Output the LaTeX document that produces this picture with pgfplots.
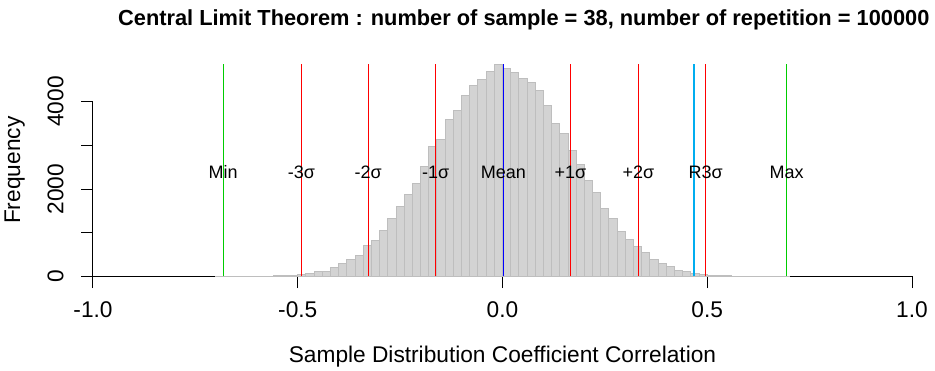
\documentclass[border=0pt]{standalone}
\usepackage{fontspec}
\setmainfont{Liberation Sans}
\usepackage{pgfplots}
\usepackage{pgfplotstable}
\pgfplotsset{compat=1.18}
\definecolor{barfill}{RGB}{211,211,211}
\definecolor{barline}{RGB}{190,190,190}
\definecolor{rgreen}{RGB}{0,205,0}
\pgfplotstableread{
x y
-0.70 1
-0.68 0
-0.66 1
-0.64 2
-0.62 3
-0.60 5
-0.58 9
-0.56 18
-0.54 22
-0.52 28
-0.50 50
-0.48 75
-0.46 120
-0.44 120
-0.42 206
-0.40 305
-0.38 396
-0.36 488
-0.34 717
-0.32 830
-0.30 1060
-0.28 1327
-0.26 1609
-0.24 1876
-0.22 2128
-0.20 2520
-0.18 2982
-0.16 3142
-0.14 3593
-0.12 3806
-0.10 4149
-0.08 4378
-0.06 4515
-0.04 4698
-0.02 4858
0.00 4762
0.02 4667
0.04 4530
0.06 4439
0.08 4263
0.10 3919
0.12 3508
0.14 3279
0.16 2890
0.18 2560
0.20 2204
0.22 1922
0.24 1556
0.26 1315
0.28 1021
0.30 847
0.32 693
0.34 549
0.36 389
0.38 297
0.40 229
0.42 137
0.44 114
0.46 69
0.48 46
0.50 23
0.52 20
0.54 17
0.56 9
0.58 6
0.60 4
0.62 2
0.64 1
0.66 1
0.68 1
0.70 1
}\histdata
\begin{document}
\begin{tikzpicture}
\path[use as bounding box] (-93pt,-94.5pt) rectangle (842pt,276.5pt);
\begin{axis}[
  at={(0pt,0pt)}, anchor=south west,
  scale only axis, width=819pt, height=212.5pt,
  xmin=-1, xmax=1, ymin=0, ymax=4860,
  axis line style={draw=none},
  clip=false,
  font=\fontsize{22.7}{27}\selectfont,
  xtick={-1,-0.5,0,0.5,1}, xticklabels={-1.0,-0.5,0.0,0.5,1.0},
  ytick={0,1000,2000,3000,4000}, yticklabels={0,,2000,,4000},
  tick align=outside, major tick length=11.7pt,
  xtick pos=bottom, ytick pos=left,
  tick style={black, line width=1pt},
  xticklabel style={anchor=north, inner sep=0pt, yshift=-13pt},
  yticklabel style={xshift=-18pt, rotate=90, anchor=base, inner sep=0pt},
  title={Central Limit Theorem : number of sample = 38, number of repetition = 100000},
  title style={at={(axis description cs:0.526,1.152)}, anchor=base, font=\bfseries\fontsize{21.8}{26}\selectfont},
  xlabel={Sample Distribution Coefficient Correlation},
  xlabel style={at={(axis description cs:0.5,-0.407)}, anchor=base},
  ylabel={Frequency},
  ylabel style={at={(axis description cs:-0.0891,0.5)}, anchor=base, rotate=0},
]
\draw[black, line width=1pt] (axis cs:-1,0) -- (axis cs:1,0);
\draw[black, line width=1pt] (axis cs:-1,0) -- (axis cs:-1,4000);
\addplot[ybar interval, fill=barfill, draw=barline, line width=1pt] table {\histdata};
\addplot[rgreen, line width=1pt] coordinates {(-0.682,0) (-0.682,4860)};
\addplot[red, line width=1pt] coordinates {(-0.491,0) (-0.491,4860)};
\addplot[red, line width=1pt] coordinates {(-0.328,0) (-0.328,4860)};
\addplot[red, line width=1pt] coordinates {(-0.163,0) (-0.163,4860)};
\addplot[blue, line width=1pt] coordinates {(0.002,0) (0.002,4860)};
\addplot[red, line width=1pt] coordinates {(0.166,0) (0.166,4860)};
\addplot[red, line width=1pt] coordinates {(0.332,0) (0.332,4860)};
\addplot[cyan, line width=2pt] coordinates {(0.468,0) (0.468,4860)};
\addplot[red, line width=1pt] coordinates {(0.496,0) (0.496,4860)};
\addplot[rgreen, line width=1pt] coordinates {(0.694,0) (0.694,4860)};
\begin{scope}[font=\fontsize{18}{21}\selectfont]
\node at (axis cs:-0.682,2390) {Min};
\node at (axis cs:-0.491,2390) {-3σ};
\node at (axis cs:-0.328,2390) {-2σ};
\node at (axis cs:-0.163,2390) {-1σ};
\node at (axis cs:0.002,2390) {Mean};
\node at (axis cs:0.166,2390) {+1σ};
\node at (axis cs:0.332,2390) {+2σ};
\node at (axis cs:0.496,2390) {R3σ};
\node at (axis cs:0.694,2390) {Max};
\end{scope}
\end{axis}
\end{tikzpicture}
\end{document}
